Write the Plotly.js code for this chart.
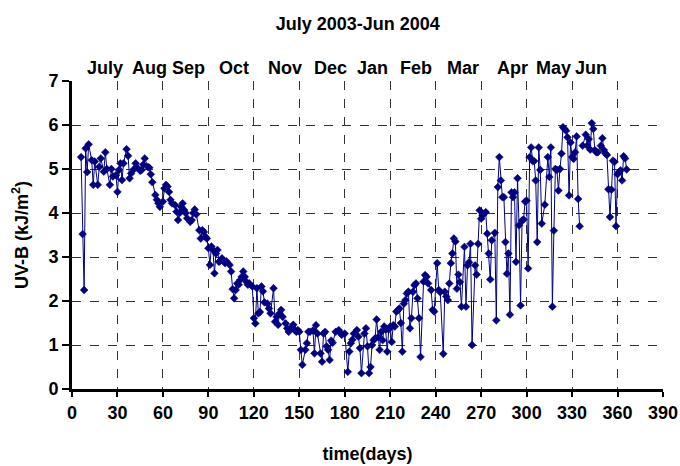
<!DOCTYPE html>
<html>
<head>
<meta charset="utf-8">
<script src="https://cdn.plot.ly/plotly-3.0.1.min.js"></script>
<style>html,body{margin:0;padding:0;background:#fff;}#chart{width:680px;height:466px;}</style>
</head>
<body>
<div id="chart"></div>
<script>
// Day of year (from 1 July 2003) and daily UV-B dose (kJ/m2); null = missing
const days = [6,7,8,9,10,11,13,14,15,17,18,19,21,22,23,25,26,27,29,30,31,32,33,34,36,37,38,39,41,42,43,45,46,47,48,50,51,52,53,
55,56,57,58,60,61,62,63,64,65,66,68,69,70,71,72,73,74,75,76,78,79,80,81,82,84,85,86,87,88,89,90,91,92,93,94,95,96,97,98,
99,101,102,104,105,106,107,108,109,110,111,112,113,114,115,116,117,119,120,121,122,123,124,125,126,127,129,130,131,133,134,135,136,137,138,139,141,142,143,145,146,147,148,149,150,151,152,
154,155,156,157,159,160,161,162,164,165,166,167,168,169,170,171,172,174,176,177,178,180,182,183,184,185,186,188,189,190,191,193,194,195,196,197,198,199,200,201,202,203,204,205,206,207,208,209,210,211,212,213,214,215,216,217,218,219,220,221,222,223,224,225,226,227,228,229,230,232,233,234,235,237,238,239,241,242,243,245,246,247,248,249,250,251,252,253,254,255,256,257,259,260,261,262,263,264,266,267,268,269,270,271,273,274,275,276,277,279,280,281,282,283,284,285,286,287,288,289,290,291,292,293,294,295,296,297,298,299,300,301,302,303,304,305,306,307,308,309,310,312,314,315,316,317,318,319,320,321,322,323,324,325,326,327,328,329,330,331,332,333,334,335,336,
337,339,340,341,342,343,344,345,346,347,349,350,351,352,353,354,355,356,357,358,359,360,361,362,363,364,365,366];
const uvb = [5.27,3.52,2.25,5.47,4.93,5.56,5.2,4.64,5.17,4.64,5.05,5.24,4.94,5.38,5.0,4.64,5.0,4.83,4.86,4.48,4.98,5.13,4.75,5.13,5.45,5.3,4.79,4.9,5.0,5.13,5.03,4.96,4.98,5.1,5.24,5.05,5.03,4.88,4.7,
4.41,4.3,4.22,4.14,4.26,4.56,4.64,4.6,4.48,4.3,4.22,4.18,4.03,3.84,4.0,4.14,4.22,4.07,4.0,3.88,3.8,3.84,4.0,4.08,3.97,3.61,3.42,3.61,3.57,3.46,3.42,3.2,2.82,3.24,3.16,2.63,3.08,3.16,2.89,2.92,
2.97,2.86,2.9,2.82,2.67,2.27,2.06,2.25,2.4,2.37,2.48,2.55,2.67,2.55,2.44,2.37,2.4,2.33,1.61,1.49,2.29,1.72,1.75,2.33,2.22,1.97,1.94,1.83,1.72,2.29,1.53,1.64,1.46,1.72,1.8,1.64,1.49,1.38,1.3,1.41,1.46,1.34,1.3,1.34,1.3,0.89,0.55,
0.89,1.04,1.3,1.3,1.33,0.81,1.45,1.26,0.81,0.62,1.26,1.3,0.97,0.89,0.66,1.1,1.05,1.3,1.34,1.28,1.23,1.26,0.39,0.85,1.04,1.12,1.26,1.34,1.19,0.93,0.36,1.26,1.38,0.97,0.36,0.5,1.0,1.11,1.15,1.58,1.18,0.89,1.3,1.11,1.42,1.35,0.85,1.35,1.42,1.07,1.45,1.42,1.76,1.79,1.83,1.5,0.85,1.94,2.02,2.17,2.21,1.38,1.61,2.21,2.36,2.4,2.06,1.61,0.73,2.44,2.59,2.55,2.4,2.25,1.8,1.76,2.86,2.25,2.2,0.8,2.21,2.1,2.02,2.4,2.86,3.08,3.42,3.35,2.28,2.6,2.43,1.87,3.23,1.87,2.81,2.88,3.3,1.0,2.81,2.6,3.3,4.06,3.87,3.95,4.02,3.53,3.08,2.49,3.38,3.55,1.56,4.59,5.27,4.74,4.36,4.36,3.34,2.62,3.08,1.69,4.47,4.36,4.47,2.89,4.79,3.72,1.9,3.83,3.85,4.26,4.28,2.74,5.27,5.49,5.18,5.18,4.74,3.34,5.49,4.98,3.76,4.19,5.27,4.82,5.49,1.87,3.6,5.0,4.98,4.51,5.0,5.35,5.95,5.91,5.87,5.72,4.4,5.6,5.27,5.23,5.38,5.74,4.32,3.7,null,
5.53,5.78,5.53,5.68,5.44,6.04,5.91,5.43,5.38,5.38,5.53,5.7,5.43,5.35,5.32,4.54,3.91,4.53,5.19,5.16,3.7,4.88,4.93,4.97,4.74,5.29,5.24,4.99];

const monthNames = ["July","Aug","Sep","Oct","Nov","Dec","Jan","Feb","Mar","Apr","May","Jun"];
const monthPos = [21.6,51,76.7,107,140.6,170.3,198.2,226.7,258.2,290.7,318,342.4];

const xTicks = [0,30,60,90,120,150,180,210,240,270,300,330,360,390];
const yTicks = [0,1,2,3,4,5,6,7];

const FONT = "Liberation Sans, Arial, sans-serif";
const navy = "#000080";

const trace = {
  x: days, y: uvb, type: "scatter", mode: "lines+markers",
  connectgaps: false,
  line: {color: navy, width: 1},
  marker: {symbol: "diamond", size: 6, color: navy, line: {color: navy, width: 0.5}},
  hoverinfo: "x+y", showlegend: false
};

const annotations = monthNames.map((m, i) => ({
  x: monthPos[i], xref: "x", y: 1.042, yref: "paper",
  text: m, showarrow: false, xanchor: "center", yanchor: "middle",
  font: {family: FONT, size: 18, color: "#000", weight: 700}
}));

const layout = {
  width: 680, height: 466,
  margin: {l: 72, r: 17, t: 81, b: 77},
  paper_bgcolor: "#fff", plot_bgcolor: "#fff",
  font: {family: FONT, size: 18, color: "#000"},
  title: {text: "July 2003-Jun 2004", x: 0.526, xref: "container", xanchor: "center",
          y: 0.95, yref: "container", yanchor: "middle",
          font: {family: FONT, size: 18, color: "#000", weight: 700}},
  xaxis: {
    range: [0, 390], tickvals: xTicks, ticktext: xTicks.map(String),
    showline: true, linecolor: "#000", linewidth: 3,
    ticks: "outside", ticklen: 5, tickwidth: 2, tickcolor: "#000",
    showgrid: true, gridcolor: "#333", griddash: "dash", gridwidth: 1,
    zeroline: false,
    tickfont: {family: FONT, size: 18, color: "#000", weight: 700},
    title: {text: "time(days)", standoff: 26, font: {family: FONT, size: 18, color: "#000", weight: 700}}
  },
  yaxis: {
    range: [0, 7], tickvals: yTicks, ticktext: yTicks.map(String),
    showline: true, linecolor: "#000", linewidth: 3,
    ticks: "outside", ticklen: 7, tickwidth: 2, tickcolor: "#000",
    showgrid: true, gridcolor: "#333", griddash: "dash", gridwidth: 1,
    zeroline: false,
    tickfont: {family: FONT, size: 18, color: "#000", weight: 700},
    title: {text: "UV-B (kJ/m<sup>2</sup>)", standoff: 16, font: {family: FONT, size: 18, color: "#000", weight: 700}}
  },
  annotations: annotations
};

Plotly.newPlot("chart", [trace], layout, {displayModeBar: false, staticPlot: true});
</script>
</body>
</html>
